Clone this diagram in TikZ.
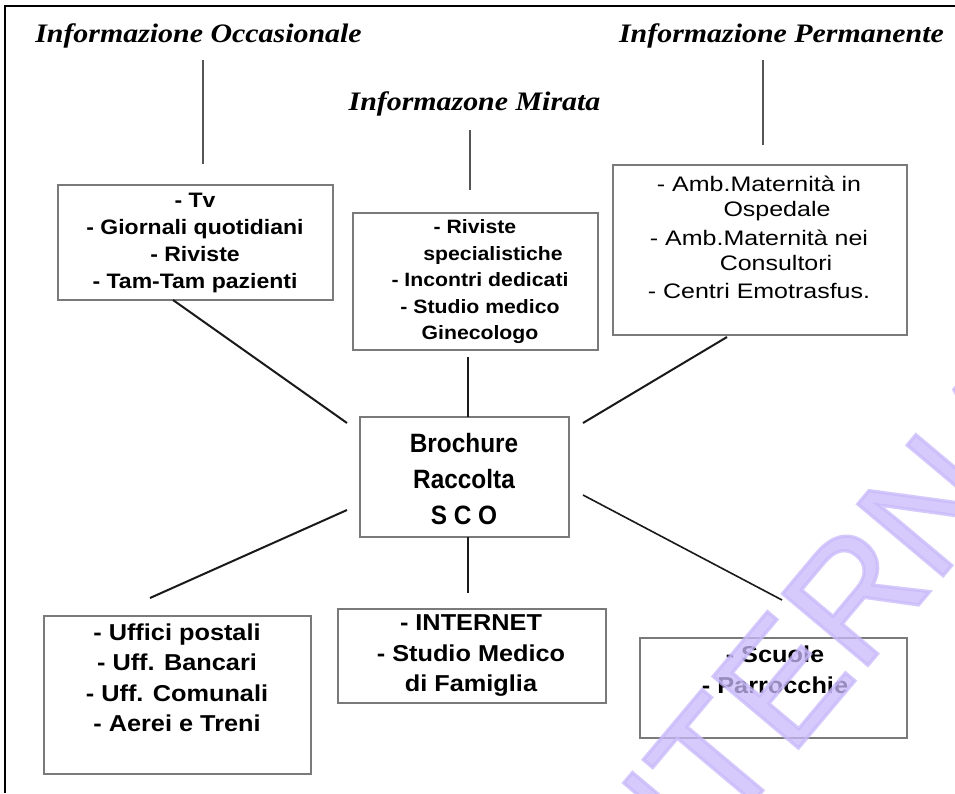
\documentclass[tikz,border=0pt]{standalone}
\usepackage{fontspec}
\setmainfont{Liberation Serif}
\newfontfamily\titlefont[FakeStretch=1.12]{Liberation Serif}
\newfontfamily\boxfont[FakeStretch=1.1]{Liberation Sans}
\newfontfamily\cenfont[FakeStretch=0.92]{Liberation Sans}
\newfontfamily\regfont[FakeStretch=1.19]{Liberation Sans}
\newfontfamily\wmfont[FakeBold=2]{Liberation Sans}
\definecolor{boxgray}{HTML}{7A7A7A}
\definecolor{tlinecol}{HTML}{555555}
\definecolor{conncol}{HTML}{1A1A1A}
\definecolor{wmcol}{RGB}{200,185,250}
\tikzset{
  boxshape/.style={draw=boxgray, line width=1.8pt, inner sep=0pt, fill=none},
  titletext/.style={inner sep=0pt, font=\titlefont\bfseries\itshape\fontsize{26.7}{30}\selectfont},
  txtA/.style={inner sep=0pt, align=center, font=\boxfont\bfseries\fontsize{20.9}{27}\selectfont},
  txtB/.style={inner sep=0pt, align=center, font=\boxfont\bfseries\fontsize{19.3}{26.5}\selectfont},
  txtR/.style={inner sep=0pt, align=center, font=\regfont\fontsize{21}{25}\selectfont},
  txtC/.style={inner sep=0pt, align=center, font=\cenfont\bfseries\fontsize{26.5}{36}\selectfont},
  txtL/.style={inner sep=0pt, align=center, font=\boxfont\bfseries\fontsize{23}{30.5}\selectfont},
  tline/.style={draw=tlinecol, line width=2pt},
  conn/.style={draw=conncol, line width=2pt},
  wmark/.style={inner sep=0pt, text=wmcol, text opacity=0.75, font=\wmfont\fontsize{162}{162}\selectfont}
}
\begin{document}
\begin{tikzpicture}[x=1pt,y=-1pt]
\useasboundingbox (0,0) rectangle (955,793);
\fill[white] (0,0) rectangle (955,793);
\draw[line width=2pt, black] (5,793) -- (5,6) -- (955,6);

% titles
\node[titletext, anchor=base] (t1) at (198.5,42) {Informazione Occasionale};
\node[titletext, anchor=base] (t2) at (474.5,110) {Informazone Mirata};
\node[titletext, anchor=base] (t3) at (781.5,42) {Informazione Permanente};

% boxes
\node[boxshape, minimum width=275pt, minimum height=115pt] (b1) at (195.5,242.5) {};
\node[boxshape, minimum width=245pt, minimum height=137pt] (b2) at (475.5,281.5) {};
\node[boxshape, minimum width=294pt, minimum height=170pt] (b3) at (760,250) {};
\node[boxshape, minimum width=209pt, minimum height=120pt] (cen) at (464.5,477) {};
\node[boxshape, minimum width=267pt, minimum height=158pt] (bl) at (177.5,695) {};
\node[boxshape, minimum width=268pt, minimum height=94pt] (bm) at (472,656) {};
\node[boxshape, minimum width=267pt, minimum height=100pt] (br) at (773.5,688) {};

% box texts
\node[txtA] (b1t) at (195,243) {- Tv\\- Giornali quotidiani\\- Riviste\\- Tam-Tam pazienti};
\node[txtB] (b2t) at (480,282) {- Riviste\hspace*{10pt}\\\hspace*{26pt}specialistiche\\- Incontri dedicati\\- Studio medico\\Ginecologo};
\node[txtR] (b3t) at (759,237) {- Amb.Maternità in\\\hspace*{36pt}Ospedale\\[4pt]- Amb.Maternità nei\\\hspace*{34pt}Consultori\\[3pt]- Centri Emotrasfus.};
\node[txtC] (cent) at (464,479) {Brochure\\Raccolta\\S C O};
\node[txtL] (blt) at (177,678) {- Uffici postali\\- Uff. Bancari\\- Uff. Comunali\\- Aerei e Treni};
\node[txtL] (bmt) at (471,656) {- INTERNET\\- Studio Medico\\di Famiglia};
\node[txtL] (brt) at (775,670) {- Scuole\\- Parrocchie};

% connector end points
\coordinate (t1a) at (203,60);  \coordinate (t1b) at (203,164);
\coordinate (t2a) at (470,130); \coordinate (t2b) at (470,190);
\coordinate (t3a) at (763,60);  \coordinate (t3b) at (763,145);
\coordinate (c1a) at (173,300); \coordinate (c1b) at (347,423);
\coordinate (c2a) at (468,357); \coordinate (c2b) at (468,417);
\coordinate (c3a) at (727,337); \coordinate (c3b) at (583,423);
\coordinate (c4a) at (347,510); \coordinate (c4b) at (150,598);
\coordinate (c5a) at (468,537); \coordinate (c5b) at (468,593);
\coordinate (c6a) at (583,495); \coordinate (c6b) at (782,600);

\draw[tline] (t1a) -- (t1b);
\draw[tline] (t2a) -- (t2b);
\draw[tline] (t3a) -- (t3b);
\draw[conn] (c1a) -- (c1b);
\draw[conn] (c2a) -- (c2b);
\draw[conn] (c3a) -- (c3b);
\draw[conn] (c4a) -- (c4b);
\draw[conn] (c5a) -- (c5b);
\draw[conn, line width=1.6pt] (c6a) -- (c6b);

% watermark
\begin{scope}
\clip (6,7) rectangle (955,793);
\node[wmark, rotate=50] (wm) at (808,650) {INTERNA};
\end{scope}
\end{tikzpicture}
\end{document}
